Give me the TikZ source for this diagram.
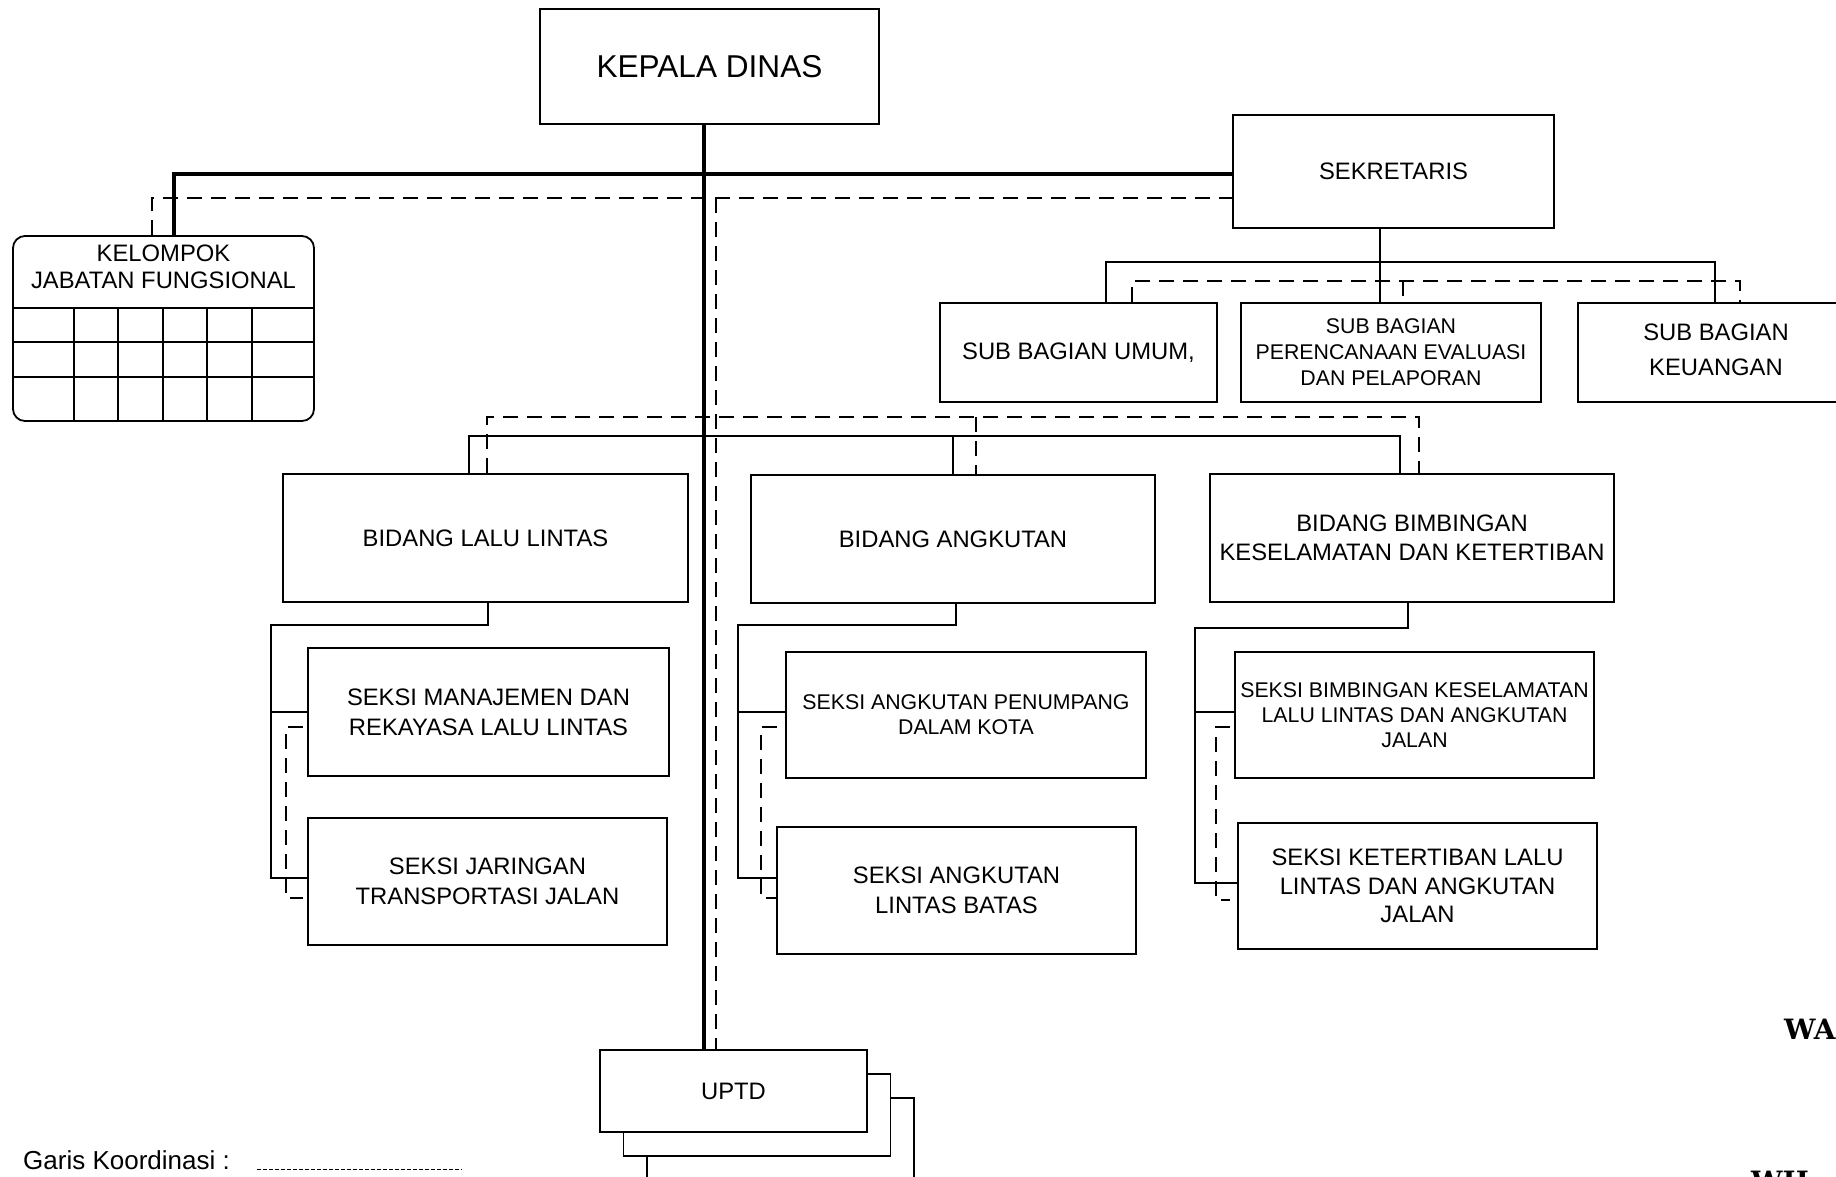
\documentclass[tikz,border=0pt]{standalone}
\usepackage{fontspec}
\setmainfont{Liberation Sans}
\newfontfamily\slabfont{DejaVu Serif}
\begin{document}
\begin{tikzpicture}[x=1pt,y=-1pt,
  box/.style={draw, line width=1.8pt, inner sep=0pt, align=center, fill=white},
  fsmain/.style={font=\fontsize{23.8pt}{#1}\selectfont},
  fssmall/.style={font=\fontsize{21.3pt}{#1}\selectfont},
  conn/.style={line width=1.8pt},
  thickline/.style={line width=3.6pt},
  coordline/.style={line width=1.8pt, dash pattern=on 15pt off 9pt},
  legendline/.style={line width=1pt, dash pattern=on 4pt off 2pt}]
\useasboundingbox (0,0) rectangle (1836,1176);
\clip (0,0) rectangle (1836,1176);

% ---------- top level ----------
\node[box, minimum width=339, minimum height=115, font=\fontsize{31.6pt}{38pt}\selectfont] (kd) at (709.5,66.5) {KEPALA DINAS};
\node[box, fsmain=28.6pt, minimum width=321, minimum height=113] (sek) at (1393.5,171.5) {SEKRETARIS};

% Kelompok Jabatan Fungsional
\node[draw, line width=1.8pt, rounded corners=12pt, inner sep=0pt, minimum width=301, minimum height=185] (kjf) at (163.5,328.5) {};
\node[fsmain=27.5pt, align=center, inner sep=0pt] (kjft) at (163.5,267) {KELOMPOK\\JABATAN FUNGSIONAL};
\foreach \yy in {308,342,377} \draw[conn] (kjf.west |- 0,\yy) -- (kjf.east |- 0,\yy);
\foreach \xx in {74,118,163,207,252} \draw[conn] (\xx,308) -- (kjf.south -| \xx,0);

% Sub bagian
\node[box, fsmain=28.6pt, minimum width=277, minimum height=99] (sbu) at (1078.5,352.5) {SUB BAGIAN UMUM,};
\node[box, fssmall=26pt, minimum width=300, minimum height=99] (sbp) at (1391,352.5) {SUB BAGIAN\\PERENCANAAN EVALUASI\\DAN PELAPORAN};
\node[box, fsmain=35pt, minimum width=276, minimum height=99] (sbk) at (1716,352.5) {};
\node[fsmain=35pt, align=center, inner sep=0pt] (sbkt) at (1716,350) {SUB BAGIAN\\KEUANGAN};

% Bidang
\node[box, fsmain=29pt, minimum width=405, minimum height=128.5] (bll) at (485.5,538) {BIDANG LALU LINTAS};
\node[box, fsmain=29pt, minimum width=404, minimum height=128] (ba) at (953,539) {BIDANG ANGKUTAN};
\node[box, fsmain=29.5pt, minimum width=404, minimum height=128.5] (bbk) at (1412,538) {BIDANG BIMBINGAN\\KESELAMATAN DAN KETERTIBAN};

% Seksi
\node[box, fsmain=30pt, minimum width=361, minimum height=128] (sm) at (488.5,712) {SEKSI MANAJEMEN DAN\\REKAYASA LALU LINTAS};
\node[box, fsmain=30pt, minimum width=359, minimum height=127] (sj) at (487.5,881.5) {SEKSI JARINGAN\\TRANSPORTASI JALAN};
\node[box, fssmall=25pt, minimum width=360, minimum height=126] (sap) at (966,715) {SEKSI ANGKUTAN PENUMPANG\\DALAM KOTA};
\node[box, fsmain=29.5pt, minimum width=359, minimum height=127] (sal) at (956.5,890.5) {SEKSI ANGKUTAN\\LINTAS BATAS};
\node[box, fssmall=25.3pt, minimum width=359, minimum height=126] (sbb) at (1414.5,715) {SEKSI BIMBINGAN KESELAMATAN\\LALU LINTAS DAN ANGKUTAN\\JALAN};
\node[box, fsmain=28.5pt, minimum width=359, minimum height=126] (skt) at (1417.5,886) {SEKSI KETERTIBAN LALU\\LINTAS DAN ANGKUTAN\\JALAN};

% UPTD (stacked)
\node[box, minimum width=267, minimum height=82] (uptd3) at (780.5,1139) {};
\node[box, minimum width=267, minimum height=82] (uptd2) at (757,1115) {};
\node[box, fsmain=28.6pt, minimum width=267, minimum height=82] (uptd1) at (733.5,1091) {UPTD};

% ---------- connectors ----------
\coordinate (mx) at (704,0);
\draw[thickline] (kd.south -| mx) -- (uptd1.north -| mx);
\coordinate (tk) at (174,174);
\draw[thickline] (kjf.north -| tk) -- (tk) -- (tk -| sek.west);

\coordinate (dk) at (152,198);
\draw[coordline] (kjf.north -| dk) -- (dk) -- (dk -| sek.west);
\coordinate (dv) at (716,198);
\draw[coordline] (dv) -- (uptd1.north -| dv);

% sekretaris -> sub bagian
\coordinate (sa) at (1106,262);
\coordinate (sb) at (1715,262);
\draw[conn] (sbu.north -| sa) -- (sa) -- (sb) -- (sbk.north -| sb);
\draw[conn] (sek.south -| 1380,0) -- (sbp.north -| 1380,0);
\coordinate (da) at (1132,281);
\coordinate (db) at (1740,281);
\draw[coordline] (sbu.north -| da) -- (da) -- (db) -- (sbk.north -| db);
\draw[coordline] (1403,281) -- (sbp.north -| 1403,0);

% main line -> bidang
\coordinate (ba1) at (469,436);
\coordinate (ba3) at (1400,436);
\draw[conn] (bll.north -| ba1) -- (ba1) -- (ba3) -- (bbk.north -| ba3);
\draw[conn] (ba.north) -- (ba.north |- ba1);
\coordinate (bd1) at (487,417);
\coordinate (bd3) at (1419,417);
\draw[coordline] (bll.north -| bd1) -- (bd1) -- (bd3) -- (bbk.north -| bd3);
\draw[coordline] (976,417) -- (ba.north -| 976,0);

% bidang lalu lintas -> seksi
\draw[conn] (bll.south -| 488,0) -- (488,625) -- (271,625) -- (271,878) -- (sj.west |- 0,878);
\draw[conn] (271,712) -- (sm.west |- 0,712);
\draw[coordline] (303,727) -- (286,727) -- (286,898) -- (303,898);

% bidang angkutan -> seksi
\draw[conn] (ba.south -| 956,0) -- (956,625) -- (738,625) -- (738,878) -- (sal.west |- 0,878);
\draw[conn] (738,712) -- (sap.west |- 0,712);
\draw[coordline] (777,727) -- (761,727) -- (761,898) -- (776,898);

% bidang bimbingan -> seksi
\draw[conn] (bbk.south -| 1408,0) -- (1408,628) -- (1195,628) -- (1195,883) -- (skt.west |- 0,883);
\draw[conn] (1195,712) -- (sbb.west |- 0,712);
\draw[coordline] (1230,727) -- (1216,727) -- (1216,900) -- (1230,900);

% legend
\node[anchor=base west, inner sep=0pt, font=\fontsize{26pt}{30pt}\selectfont] (leg) at (23,1169) {Garis Koordinasi :};
\coordinate (le) at (462,1169);
\draw[legendline] (257,1169) -- (le);

% cut-off text at the right edge
\node[anchor=base west, inner sep=0pt, font=\slabfont\bfseries\fontsize{28pt}{32pt}\selectfont] (wa) at (1784,1039) {WA};
\node[anchor=base west, inner sep=0pt, font=\slabfont\bfseries\fontsize{28pt}{32pt}\selectfont] (wi) at (1751,1191) {WIL. N};
\end{tikzpicture}
\end{document}
